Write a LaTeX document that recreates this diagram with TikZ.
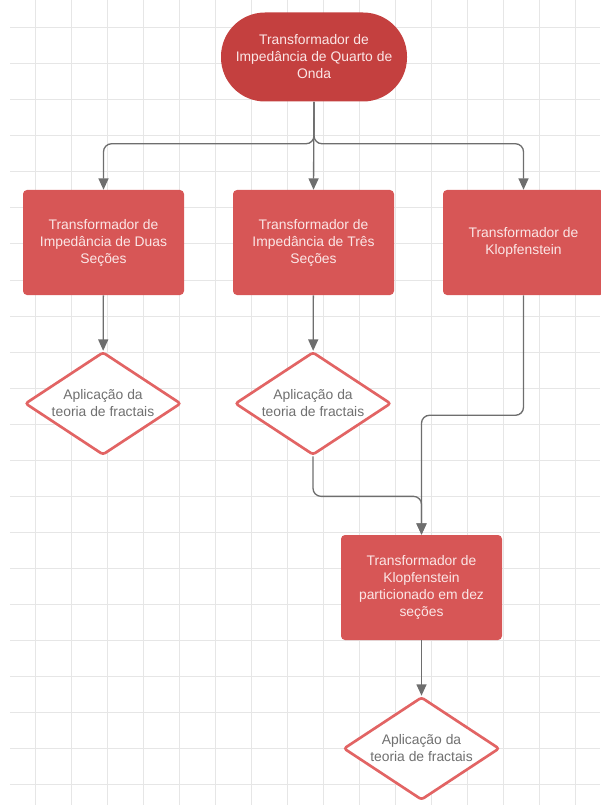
\documentclass[tikz,border=0pt]{standalone}
\usepackage{fontspec}
\setmainfont{Liberation Sans}
\usetikzlibrary{shapes.geometric,arrows.meta}

\definecolor{startred}{HTML}{C4403F}
\definecolor{boxred}{HTML}{D75656}
\definecolor{edgered}{HTML}{E26464}
\definecolor{arrowgray}{HTML}{6E6E6E}
\definecolor{gridgray}{HTML}{E6E6E6}
\definecolor{lighttext}{HTML}{FBE6E6}
\definecolor{darktext}{HTML}{707070}

\tikzset{
  startnode/.style={shape=rectangle,rounded corners=33pt,fill=startred,text=lighttext,
    minimum width=139.5pt,minimum height=66.75pt,align=center},
  procbox/.style={shape=rectangle,rounded corners=3pt,fill=boxred,text=lighttext,
    minimum width=120.75pt,minimum height=78.75pt,align=center},
  appdiamond/.style={shape=diamond,shape aspect=1.5,inner sep=0pt,rounded corners=2pt,
    draw=edgered,line width=2pt,fill=white,text=darktext,
    minimum width=117pt,minimum height=77.25pt,align=center},
  flow/.style={draw=arrowgray,line width=1pt,rounded corners=6pt,
    -{Triangle[length=8.5pt,width=7.5pt]}}
}

\begin{document}
\begin{tikzpicture}[x=0.75pt,y=-0.75pt,font=\fontsize{10.4}{12.75}\selectfont]
\useasboundingbox (0,0) rectangle (600,805);
% grid
\foreach \gx in {35,71,...,575} \draw [gridgray,line width=0.75pt] (\gx,0) -- (\gx,805);
\foreach \gy in {28,64,...,784} \draw [gridgray,line width=0.75pt] (10,\gy) -- (600,\gy);

\path (314,57) node (quarto) [startnode] {Transformador de\\Impedância de Quarto de\\Onda};
\path (103.5,242.5) node (duas) [procbox] {Transformador de\\Impedância de Duas\\Seções};
\path (313.5,242.5) node (tres) [procbox] {Transformador de\\Impedância de Três\\Seções};
\path (523.5,242.5) node (klop) [procbox] {Transformador de\\Klopfenstein};
\path (103,403.5) node (fracduas) [appdiamond] {Aplicação da\\teoria de fractais};
\path (313,403.5) node (fractres) [appdiamond] {Aplicação da\\teoria de fractais};
\path (421.5,587.5) node (klopdez) [procbox] {Transformador de\\Klopfenstein\\particionado em dez\\seções};
\path (421.5,748.5) node (fracklop) [appdiamond] {Aplicação da\\teoria de fractais};

\draw [flow] (quarto.south) -- ++(0,42) -| (duas.north);
\draw [flow] (quarto.south) -- (tres.north);
\draw [flow] (quarto.south) -- ++(0,42) -| (klop.north);
\draw [flow] (duas) to (fracduas);
\draw [flow] (tres) to (fractres);
\draw [flow] (fractres.south) -- ++(0,40) -| (klopdez.north);
\draw [flow] (klop.south) -- ++(0,120) -| (klopdez.north);
\draw [flow] (klopdez) to (fracklop);
\end{tikzpicture}
\end{document}
